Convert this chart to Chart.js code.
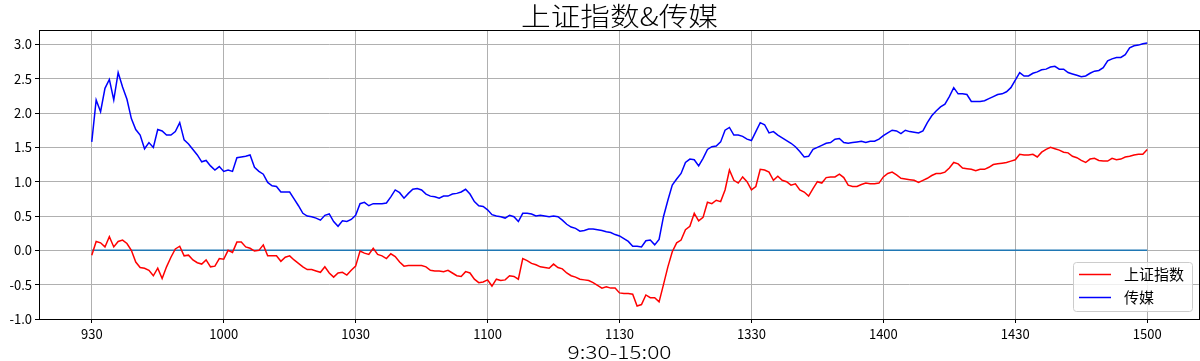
<!DOCTYPE html>
<html>
<head>
<meta charset="utf-8">
<script src="https://cdn.jsdelivr.net/npm/chart.js@4.4.1/dist/chart.umd.min.js"></script>
<style>
  html, body { margin: 0; padding: 0; background: #fff; }
  #chart { display: block; }
</style>
</head>
<body>
<canvas id="chart" width="1200" height="361"></canvas>
<script>
// --- data (one value per trading minute, 9:30 -> 15:00) ---
const chartTitle = '上证指数&传媒';
const xAxisTitle = '9:30-15:00';
const timeTicks = ['930', '1000', '1030', '1100', '1130', '1330', '1400', '1430', '1500'];
const seriesNames = ['上证指数', '传媒'];
const baseline = 0;

const szzs = [
  -0.07, 0.13, 0.11, 0.05, 0.20, 0.05, 0.13, 0.15, 0.10, 0.00,
  -0.17, -0.25, -0.26, -0.29, -0.37, -0.26, -0.41, -0.24, -0.10, 0.02,
  0.06, -0.08, -0.07, -0.14, -0.18, -0.20, -0.14, -0.24, -0.23, -0.12,
  -0.13, 0.00, -0.03, 0.12, 0.12, 0.05, 0.03, -0.01, 0.00, 0.08,
  -0.08, -0.08, -0.08, -0.16, -0.10, -0.08, -0.14, -0.19, -0.24, -0.28,
  -0.28, -0.30, -0.32, -0.24, -0.33, -0.39, -0.33, -0.32, -0.36, -0.29,
  -0.23, -0.01, -0.04, -0.06, 0.03, -0.06, -0.08, -0.12, -0.05, -0.09,
  -0.17, -0.23, -0.22, -0.22, -0.22, -0.22, -0.24, -0.29, -0.30, -0.30,
  -0.31, -0.29, -0.33, -0.37, -0.38, -0.31, -0.33, -0.42, -0.47, -0.46,
  -0.43, -0.52, -0.42, -0.44, -0.43, -0.37, -0.38, -0.42, -0.12, -0.15,
  -0.19, -0.21, -0.24, -0.25, -0.26, -0.20, -0.25, -0.27, -0.33, -0.37,
  -0.39, -0.42, -0.43, -0.44, -0.47, -0.51, -0.55, -0.53, -0.55, -0.55,
  -0.62, -0.63, -0.63, -0.64, -0.81, -0.79, -0.65, -0.69, -0.69, -0.75,
  -0.50, -0.24, -0.02, 0.11, 0.15, 0.30, 0.35, 0.54, 0.43, 0.48,
  0.70, 0.68, 0.73, 0.71, 0.88, 1.17, 1.02, 0.98, 1.07, 1.00,
  0.88, 0.93, 1.18, 1.17, 1.14, 1.02, 1.08, 1.02, 1.00, 0.95,
  0.97, 0.88, 0.85, 0.79, 0.90, 1.00, 0.98, 1.06, 1.07, 1.07,
  1.11, 1.06, 0.95, 0.93, 0.93, 0.96, 0.98, 0.97, 0.97, 0.98,
  1.07, 1.12, 1.14, 1.10, 1.05, 1.04, 1.03, 1.02, 0.99, 1.02,
  1.05, 1.09, 1.12, 1.12, 1.14, 1.20, 1.28, 1.26, 1.20, 1.19,
  1.18, 1.16, 1.18, 1.18, 1.21, 1.25, 1.26, 1.27, 1.28, 1.30,
  1.32, 1.40, 1.39, 1.39, 1.40, 1.36, 1.43, 1.47, 1.50, 1.48,
  1.46, 1.43, 1.42, 1.37, 1.35, 1.31, 1.28, 1.33, 1.34, 1.31,
  1.30, 1.30, 1.34, 1.32, 1.33, 1.36, 1.37, 1.39, 1.40, 1.40,
  1.47
];

const media = [
  1.58, 2.19, 2.02, 2.36, 2.49, 2.19, 2.59, 2.38, 2.20, 1.92,
  1.76, 1.68, 1.48, 1.57, 1.50, 1.76, 1.74, 1.68, 1.68, 1.73,
  1.86, 1.61, 1.55, 1.47, 1.39, 1.29, 1.31, 1.23, 1.17, 1.22,
  1.15, 1.17, 1.15, 1.35, 1.36, 1.37, 1.39, 1.21, 1.15, 1.11,
  0.99, 0.94, 0.93, 0.85, 0.85, 0.85, 0.75, 0.65, 0.54, 0.50,
  0.49, 0.47, 0.44, 0.51, 0.53, 0.42, 0.35, 0.43, 0.42, 0.45,
  0.51, 0.68, 0.70, 0.65, 0.68, 0.68, 0.68, 0.69, 0.78, 0.88,
  0.84, 0.76, 0.83, 0.89, 0.90, 0.88, 0.82, 0.79, 0.78, 0.76,
  0.79, 0.79, 0.82, 0.83, 0.85, 0.89, 0.82, 0.71, 0.65, 0.64,
  0.59, 0.52, 0.50, 0.49, 0.47, 0.51, 0.49, 0.42, 0.54, 0.54,
  0.53, 0.50, 0.51, 0.50, 0.49, 0.50, 0.49, 0.44, 0.38, 0.34,
  0.32, 0.28, 0.29, 0.31, 0.31, 0.30, 0.29, 0.27, 0.26, 0.23,
  0.21, 0.17, 0.13, 0.06, 0.06, 0.05, 0.14, 0.15, 0.08, 0.16,
  0.49, 0.73, 0.95, 1.04, 1.12, 1.28, 1.33, 1.32, 1.23, 1.34,
  1.47, 1.51, 1.52, 1.58, 1.75, 1.79, 1.68, 1.68, 1.66, 1.62,
  1.60, 1.73, 1.86, 1.83, 1.71, 1.73, 1.68, 1.64, 1.60, 1.56,
  1.51, 1.44, 1.36, 1.37, 1.47, 1.50, 1.53, 1.56, 1.57, 1.62,
  1.63, 1.57, 1.56, 1.57, 1.58, 1.59, 1.57, 1.59, 1.59, 1.62,
  1.67, 1.71, 1.75, 1.74, 1.70, 1.75, 1.73, 1.72, 1.71, 1.74,
  1.86, 1.96, 2.03, 2.09, 2.13, 2.24, 2.37, 2.28, 2.28, 2.27,
  2.17, 2.17, 2.17, 2.18, 2.21, 2.24, 2.27, 2.28, 2.31, 2.37,
  2.48, 2.59, 2.54, 2.54, 2.58, 2.60, 2.63, 2.64, 2.67, 2.68,
  2.64, 2.64, 2.59, 2.57, 2.55, 2.53, 2.54, 2.58, 2.61, 2.62,
  2.66, 2.76, 2.79, 2.81, 2.81, 2.85, 2.95, 2.98, 2.99, 3.01,
  3.02
];

const FONT = "'Noto Sans CJK SC', 'DejaVu Sans', sans-serif";
const toPoints = arr => arr.map((v, i) => ({ x: i, y: v }));

// draws text centred at (cx, cy), stretched horizontally to a target width
function wideText(ctx, text, cx, cy, width) {
    const sx = width / ctx.measureText(text).width;
    ctx.save();
    ctx.translate(cx, cy);
    ctx.scale(sx, 1);
    ctx.fillText(text, 0, 0);
    ctx.restore();
}

// spines, title, x label and the lower-right legend (matplotlib look)
const decorPlugin = {
    id: 'decor',
    afterDraw(chart) {
        const { ctx, chartArea: a } = chart;
        ctx.save();
        ctx.strokeStyle = '#000';
        ctx.lineWidth = 1;
        ctx.strokeRect(a.left + 0.5, a.top + 0.5, a.right - a.left - 1, a.bottom - a.top);

        ctx.fillStyle = '#000';
        ctx.textAlign = 'center';
        ctx.textBaseline = 'middle';
        ctx.font = '300 26px ' + FONT;
        wideText(ctx, chartTitle, (a.left + a.right) / 2, 16, 197);
        ctx.font = '300 18px ' + FONT;
        wideText(ctx, xAxisTitle, (a.left + a.right) / 2, 352, 104);

        // legend box
        const bw = 119, bh = 49;
        const bx = a.right - 8 - bw, by = a.bottom - 8 - bh;
        ctx.beginPath();
        ctx.roundRect(bx + 0.5, by + 0.5, bw, bh, 3);
        ctx.fillStyle = 'rgba(255,255,255,0.8)';
        ctx.fill();
        ctx.strokeStyle = '#cccccc';
        ctx.stroke();

        const items = chart.data.datasets.filter(d => seriesNames.includes(d.label));
        ctx.textAlign = 'left';
        ctx.font = '15px ' + FONT;
        items.forEach((d, k) => {
            const y = by + 12.5 + k * 23;
            ctx.strokeStyle = d.borderColor;
            ctx.lineWidth = 1.5;
            ctx.beginPath();
            ctx.moveTo(bx + 6, y);
            ctx.lineTo(bx + 38, y);
            ctx.stroke();
            ctx.fillStyle = '#000';
            ctx.fillText(d.label, bx + 51, y);
        });
        ctx.restore();
    }
};

new Chart(document.getElementById('chart').getContext('2d'), {
    type: 'line',
    data: {
        datasets: [
            { label: seriesNames[0], data: toPoints(szzs), borderColor: '#ff0000', borderWidth: 1.5, pointRadius: 0, tension: 0 },
            { label: seriesNames[1], data: toPoints(media), borderColor: '#0000ff', borderWidth: 1.5, pointRadius: 0, tension: 0 },
            { label: 'zero', data: toPoints(szzs.map(() => baseline)), borderColor: '#1f77b4', borderWidth: 1.5, pointRadius: 0 }
        ]
    },
    options: {
        responsive: false,
        devicePixelRatio: 1,
        animation: false,
        layout: { padding: { top: 30, right: 0, left: 0, bottom: 0 } },
        plugins: {
            legend: { display: false },
            tooltip: { enabled: false },
            title: { display: false }
        },
        scales: {
            x: {
                type: 'linear',
                min: -12,
                max: 252,
                afterBuildTicks: axis => { axis.ticks = timeTicks.map((_, k) => ({ value: k * 30 })); },
                afterFit: axis => { axis.height = 42; },
                grid: { color: '#b0b0b0', lineWidth: 1, tickColor: '#000', tickLength: 4 },
                border: { display: false },
                ticks: {
                    autoSkip: false,
                    maxRotation: 0,
                    padding: 3,
                    color: '#000',
                    font: { family: FONT, size: 13 },
                    callback: v => timeTicks[Math.round(v / 30)]
                }
            },
            y: {
                min: -1.0,
                max: 3.21,
                afterFit: axis => { axis.width = 39; },
                grid: { color: '#b0b0b0', lineWidth: 1, tickColor: '#000', tickLength: 4 },
                border: { display: false },
                ticks: {
                    stepSize: 0.5,
                    includeBounds: false,
                    padding: 3,
                    color: '#000',
                    font: { family: FONT, size: 13 },
                    callback: v => v.toFixed(1)
                }
            }
        }
    },
    plugins: [decorPlugin]
});
</script>
</body>
</html>
